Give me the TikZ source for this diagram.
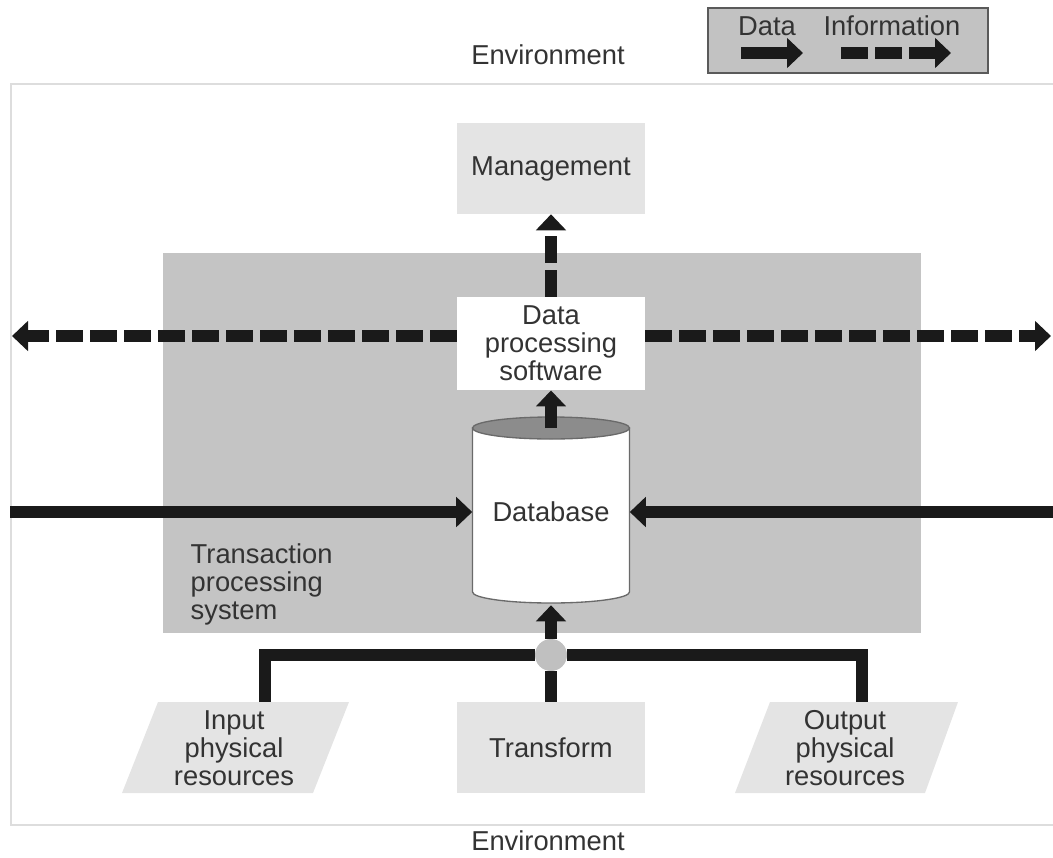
\documentclass[tikz,border=0pt]{standalone}
\usepackage{fontspec}
\setmainfont{Liberation Sans}
\usetikzlibrary{arrows.meta}
\definecolor{ink}{HTML}{333333}
\definecolor{arrowcol}{HTML}{1A1A1A}
\definecolor{boxlight}{HTML}{E4E4E4}
\definecolor{tpsgray}{HTML}{C4C4C4}
\definecolor{framecol}{HTML}{DDDDDD}
\definecolor{legendfill}{HTML}{C2C2C2}
\definecolor{legendedge}{HTML}{5A5A5A}
\definecolor{cyltop}{HTML}{8C8C8C}
\definecolor{cyledge}{HTML}{6A6A6A}
\definecolor{jgray}{HTML}{C0C0C0}

\begin{document}
\begin{tikzpicture}[x=0.75pt, y=-0.75pt,
  font=\fontsize{20.5}{21}\selectfont, text=ink,
  dataarrow/.style={line width=8.5pt, draw=arrowcol, -{Triangle[length=12pt,width=22pt]}},
  infoarrow/.style={dataarrow, dash pattern=on 20pt off 5.5pt},
  bar/.style={line width=8.5pt, draw=arrowcol, line join=miter},
  lightbox/.style={fill=boxlight, minimum width=141pt, minimum height=68.25pt, align=center, inner sep=0pt}]
  \useasboundingbox (0,0) rectangle (1053,857);

  \draw[framecol, line width=2pt] (1053,84) -- (11,84) -- (11,825) -- (1053,825);
  \node (envtop) at (548,55) {Environment};
  \node[inner sep=0pt] (envbot) at (548,841) {Environment};

  \node[draw=legendedge, line width=1.5pt, fill=legendfill, minimum width=210pt, minimum height=48.75pt, inner sep=0pt] (legend) at (848,40.5) {};
  \node (datalbl) at (767,26) {Data};
  \node (infolbl) at (892,26) {Information};
  \coordinate (d1) at (741,53); \coordinate (d2) at (803,53);
  \coordinate (i1) at (841,53); \coordinate (i2) at (951,53);
  \draw[dataarrow] (d1) -- (d2);
  \draw[infoarrow] (i1) -- (i2);

  \node[fill=tpsgray, minimum width=568.5pt, minimum height=285pt, inner sep=0pt] (tps) at (542,443) {};
  \node[align=left, anchor=west] (tpslbl) at (186,584) {Transaction\\processing\\system};

  \node[lightbox] (mgmt) at (551,168.5) {Management};
  \node[lightbox, fill=white, minimum height=70pt] (dps) at (551,343.5) {Data\\processing\\software};

  \fill[white, draw=cyledge, line width=1pt] (472.5,428) -- (472.5,592) arc[start angle=180, end angle=0, x radius=78.5, y radius=11] -- (629.5,428) -- cycle;
  \draw[fill=cyltop, draw=cyledge, line width=1pt] (551,428) ellipse [x radius=78.5, y radius=11];
  \node[minimum width=117.75pt, minimum height=139.5pt, inner sep=0pt] (db) at (551,512) {Database};
  \coordinate (dbtop) at (551,428);

  \fill[boxlight] (122,793) -- (158,702) -- (349,702) -- (313,793) -- cycle;
  \node[align=center] (inp) at (234,748) {Input\\physical\\resources};
  \node[lightbox] (trans) at (551,747.5) {Transform};
  \fill[boxlight] (735,793) -- (770,702) -- (958,702) -- (925,793) -- cycle;
  \node[align=center] (outp) at (845,748) {Output\\physical\\resources};
  \coordinate (inptop) at (265,702);
  \coordinate (outtop) at (862,702);

  \node[circle, fill=jgray, minimum size=24pt, inner sep=0pt] (jn) at (551,655) {};
  \draw[bar] (jn) -| (inptop);
  \draw[bar] (jn) -| (outtop);
  \draw[bar] (jn) -- (trans);
  \draw[dataarrow] (jn) -- (db);

  \coordinate (lin) at (10,512); \coordinate (rin) at (1053,512);
  \draw[dataarrow] (lin) -- (db);
  \draw[dataarrow] (rin) -- (db);
  \draw[dataarrow] (dbtop) -- (dps);
  \draw[infoarrow] (dps) -- (mgmt);

  \coordinate (lout) at (12,336); \coordinate (rout) at (1051,336);
  \draw[infoarrow] (dps.west |- lout) -- (lout);
  \draw[infoarrow] (dps.east |- rout) -- (rout);
\end{tikzpicture}
\end{document}
